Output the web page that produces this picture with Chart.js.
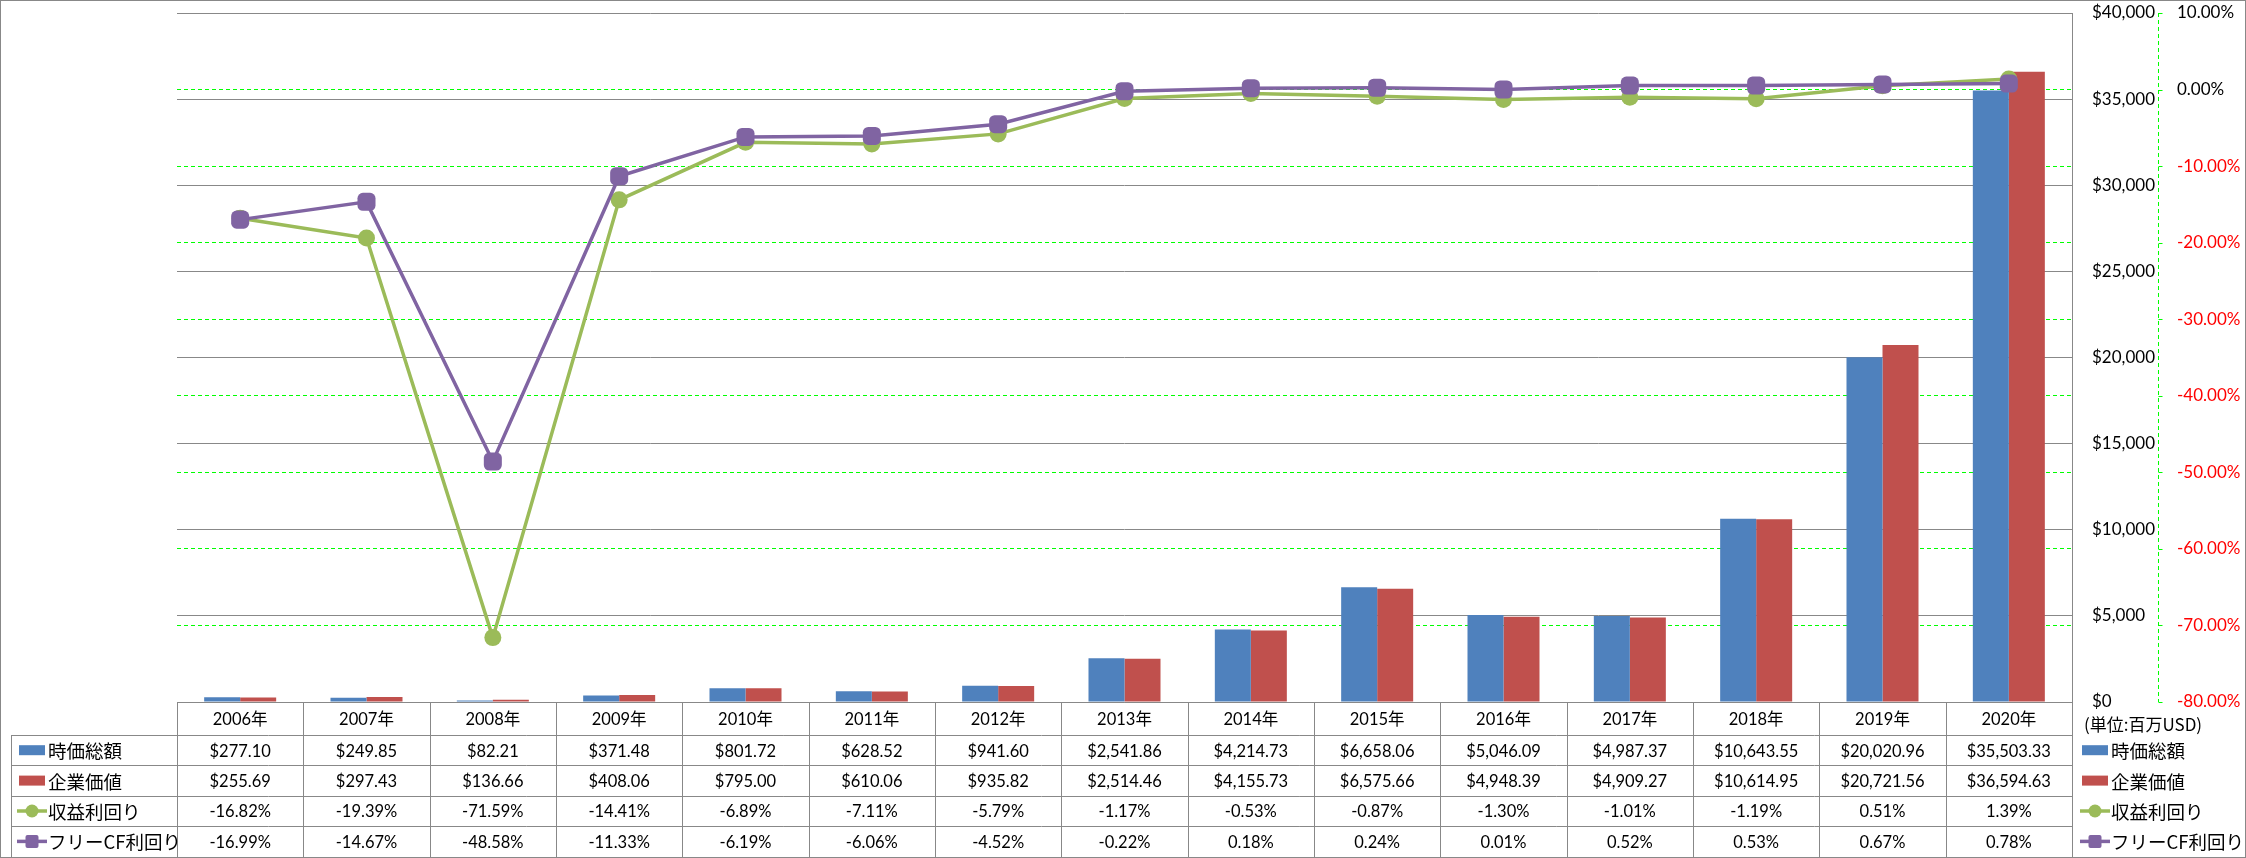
<!DOCTYPE html>
<html lang="ja">
<head>
<meta charset="UTF-8">
<title>時価総額・企業価値・利回り</title>
<script src="https://cdn.jsdelivr.net/npm/chart.js@4.4.0/dist/chart.umd.min.js"></script>
<style>
  body { margin: 0; background: #fff; }
  canvas { display: block; }
</style>
</head>
<body>
<canvas id="chart" width="2246" height="858"></canvas>
<script>
// データ (単位: 百万USD / %)
const years = ['2006年', '2007年', '2008年', '2009年', '2010年', '2011年', '2012年', '2013年',
  '2014年', '2015年', '2016年', '2017年', '2018年', '2019年', '2020年'];
const marketCap = [277.10, 249.85, 82.21, 371.48, 801.72, 628.52, 941.60, 2541.86,
  4214.73, 6658.06, 5046.09, 4987.37, 10643.55, 20020.96, 35503.33];
const enterpriseValue = [255.69, 297.43, 136.66, 408.06, 795.00, 610.06, 935.82, 2514.46,
  4155.73, 6575.66, 4948.39, 4909.27, 10614.95, 20721.56, 36594.63];
const earningsYield = [-16.82, -19.39, -71.59, -14.41, -6.89, -7.11, -5.79, -1.17,
  -0.53, -0.87, -1.30, -1.01, -1.19, 0.51, 1.39];
const fcfYield = [-16.99, -14.67, -48.58, -11.33, -6.19, -6.06, -4.52, -0.22,
  0.18, 0.24, 0.01, 0.52, 0.53, 0.67, 0.78];

const seriesNames = ['時価総額', '企業価値', '収益利回り', 'フリーCF利回り'];
const unitLabel = '(単位:百万USD)';

const BLUE = '#4F81BD', RED = '#C0504D', GREEN = '#9BBB59', PURPLE = '#8064A2';
const GRAY = '#888888', LIME = '#00FF00';
const LATIN = "Lato, 'Noto Sans CJK JP', sans-serif";
const CJK = "'Noto Sans CJK JP', sans-serif";
const PCT_MIN = -80, PCT_MAX = 10;

function fmtMoney(v) {
  return '$' + v.toLocaleString('en-US', { minimumFractionDigits: 2, maximumFractionDigits: 2 });
}
function fmtPct(v) {
  return v.toFixed(2) + '%';
}

// 凡例キーを描く
function drawKey(ctx, kind, color, x, y) {
  ctx.save();
  ctx.fillStyle = color;
  ctx.strokeStyle = color;
  if (kind === 'bar') {
    ctx.fillRect(x, y - 5, 26, 10);
  } else {
    ctx.lineWidth = 3.5;
    ctx.beginPath();
    ctx.moveTo(x - 2, y);
    ctx.lineTo(x + 28, y);
    ctx.stroke();
    if (kind === 'circle') {
      ctx.beginPath();
      ctx.arc(x + 13, y, 6.5, 0, Math.PI * 2);
      ctx.fill();
    } else {
      ctx.beginPath();
      ctx.roundRect(x + 6.5, y - 6.5, 13, 13, 2);
      ctx.fill();
    }
  }
  ctx.restore();
}

const keyKinds = [['bar', BLUE], ['bar', RED], ['circle', GREEN], ['square', PURPLE]];

// データテーブル・右側凡例・外枠
const tablePlugin = {
  id: 'dataTable',
  afterDraw(chart) {
    const ctx = chart.ctx;
    const area = chart.chartArea;
    const xs = chart.scales.x;
    const y1 = chart.scales.y1;
    const step = (area.right - area.left) / years.length;
    const top = Math.round(area.bottom);
    const headH = 33;
    const rowH = 30.4;
    const tableLeft = 11;
    const rows = [marketCap.map(fmtMoney), enterpriseValue.map(fmtMoney),
      earningsYield.map(fmtPct), fcfYield.map(fmtPct)];

    ctx.save();
    // % 軸の破線と目盛り
    const ax = Math.round(y1.left) + 0.5;
    ctx.strokeStyle = LIME;
    ctx.lineWidth = 1;
    ctx.setLineDash([4, 3]);
    ctx.beginPath();
    ctx.moveTo(ax, area.top);
    ctx.lineTo(ax, area.bottom);
    ctx.stroke();
    ctx.setLineDash([]);
    ctx.beginPath();
    y1.ticks.forEach(t => {
      const ty = Math.round(y1.getPixelForValue(t.value)) + 0.5;
      ctx.moveTo(ax, ty);
      ctx.lineTo(ax + 4, ty);
    });
    ctx.stroke();

    // 罫線
    ctx.strokeStyle = GRAY;
    ctx.beginPath();
    ctx.moveTo(area.left, top + 0.5);
    ctx.lineTo(area.right, top + 0.5);
    for (let r = 0; r <= rows.length; r++) {
      const y = Math.round(top + headH + r * rowH) + 0.5;
      ctx.moveTo(tableLeft, y);
      ctx.lineTo(area.right, y);
    }
    const bottom = Math.round(top + headH + rows.length * rowH) + 0.5;
    for (let i = 0; i <= years.length; i++) {
      const x = Math.round(area.left + i * step) + 0.5;
      ctx.moveTo(x, top);
      ctx.lineTo(x, bottom);
    }
    ctx.moveTo(tableLeft + 0.5, top + headH);
    ctx.lineTo(tableLeft + 0.5, bottom);
    ctx.stroke();

    // 値
    ctx.fillStyle = '#000';
    ctx.textAlign = 'center';
    ctx.textBaseline = 'middle';
    ctx.font = '16.5px ' + LATIN;
    years.forEach((yr, i) => {
      const cx = xs.getPixelForValue(i);
      ctx.fillText(yr, cx, top + headH / 2 + 1);
      rows.forEach((row, r) => {
        ctx.fillText(row[i], cx, top + headH + (r + 0.5) * rowH + 1);
      });
    });

    // 行見出しと右凡例
    ctx.textAlign = 'left';
    ctx.font = '18.5px ' + CJK;
    seriesNames.forEach((name, r) => {
      const cy = top + headH + (r + 0.5) * rowH;
      drawKey(ctx, keyKinds[r][0], keyKinds[r][1], 19, cy);
      ctx.fillText(name, 48, cy + 1);
      drawKey(ctx, keyKinds[r][0], keyKinds[r][1], 2082, cy);
      ctx.fillText(name, 2111, cy + 1);
    });
    ctx.font = '17px ' + CJK;
    ctx.fillText(unitLabel, 2084, top + 23);

    // 外枠
    ctx.strokeStyle = GRAY;
    ctx.strokeRect(0.5, 0.5, chart.width - 1, chart.height - 1);
    ctx.restore();
  }
};

const axisFont = { family: LATIN, size: 17 };

new Chart(document.getElementById('chart'), {
  data: {
    labels: years,
    datasets: [
      { type: 'bar', label: seriesNames[0], data: marketCap, backgroundColor: BLUE, yAxisID: 'y', order: 3 },
      { type: 'bar', label: seriesNames[1], data: enterpriseValue, backgroundColor: RED, yAxisID: 'y', order: 4 },
      {
        type: 'line', label: seriesNames[2], data: earningsYield, yAxisID: 'y1', order: 2,
        borderColor: GREEN, backgroundColor: GREEN, borderWidth: 3.5,
        pointStyle: 'circle', pointRadius: 8.5, pointBorderWidth: 0, pointBackgroundColor: GREEN
      },
      {
        type: 'line', label: seriesNames[3], data: fcfYield, yAxisID: 'y1', order: 1,
        borderColor: PURPLE, backgroundColor: PURPLE, borderWidth: 3.5,
        pointStyle: 'rectRounded', pointRadius: 10.5, pointBorderWidth: 0, pointBackgroundColor: PURPLE
      }
    ]
  },
  options: {
    responsive: false,
    animation: false,
    layout: { padding: { left: 177, top: 13, bottom: 156, right: 0 } },
    datasets: { bar: { categoryPercentage: 0.57, barPercentage: 1.0 } },
    plugins: { legend: { display: false }, tooltip: { enabled: false } },
    scales: {
      x: { display: false, offset: true },
      y: {
        position: 'right',
        min: 0, max: 40000,
        ticks: {
          stepSize: 5000, padding: 0, crossAlign: 'near', color: '#000', font: axisFont,
          callback: v => '$' + v.toLocaleString('en-US')
        },
        // 目盛り線は透明にしてラベルの位置調整に使う
        grid: { color: GRAY, drawTicks: true, tickLength: 20, tickColor: 'rgba(0,0,0,0)' },
        border: { color: GRAY },
        afterFit: s => { s.width = 86; }
      },
      y1: {
        position: 'right',
        min: PCT_MIN, max: PCT_MAX,
        ticks: {
          stepSize: 10, padding: 0, font: axisFont,
          color: c => (c.tick && c.tick.value < -1e-9 ? '#FF0000' : '#000'),
          callback: v => fmtPct(v)
        },
        grid: {
          color: c => (c.tick && (c.tick.value === PCT_MIN || c.tick.value === PCT_MAX) ? 'rgba(0,0,0,0)' : LIME),
          tickLength: 19, tickColor: 'rgba(0,0,0,0)'
        },
        border: { display: false, dash: [4, 3] },
        afterFit: s => { s.width = 88; }
      }
    }
  },
  plugins: [tablePlugin]
});
</script>
</body>
</html>
